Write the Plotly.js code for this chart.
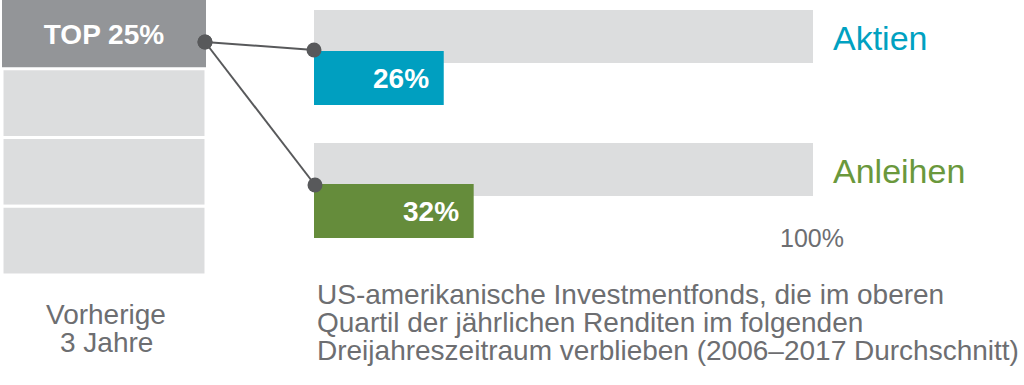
<!DOCTYPE html>
<html>
<head>
<meta charset="utf-8">
<script src="https://cdn.plot.ly/plotly-3.0.1.min.js"></script>
<style>html,body{margin:0;padding:0;background:#fff;}#chart{width:1024px;height:385px;}</style>
</head>
<body>
<div id="chart"></div>
<script>
// ---------------- data ----------------
const quartileLabels = ['TOP 25%', '', '', ''];
const quartileShares = [25, 25, 25, 25];
const assetClasses = ['Aktien', 'Anleihen'];
const stayedInTopQuartile = [26, 32];
const fullScale = 100;
const fullScaleLabel = '100%';
const leftCaptionLines = ['Vorherige', '3 Jahre'];
const captionLines = [
  'US-amerikanische Investmentfonds, die im oberen',
  'Quartil der jährlichen Renditen im folgenden',
  'Dreijahreszeitraum verblieben (2006–2017 Durchschnitt)'
];

// ---------------- style / geometry ----------------
const W = 1024, H = 385;
const FONT = 'Liberation Sans, Arial, Helvetica, sans-serif';
const darkBox = '#939598', lightBox = '#dcddde';
const assetColors = ['#009fc0', '#658c3b'];
const assetTextColors = ['#00a1c1', '#6a983c'];
const connectorColor = '#58595b';
const grayText = '#6d6e71';

const colLeft = 2, colRight = 206, colBottom = 275;
const barLeft = 314, barRight = 813;
const rowTop0 = 10, rowStep = 133, bgThick = 53, valueOffset = 41, valueThick = 54;
const sourceY = 42;

// cumulative bases so the first quartile sits on top
const total = quartileShares.reduce((a, b) => a + b, 0);
let acc = 0;
const quartileBase = quartileShares.map(v => { acc += v; return total - acc; });

const rowTop = assetClasses.map((_, i) => rowTop0 + rowStep * i);
const bgCenter = rowTop.map(t => t + bgThick / 2);
const valCenter = rowTop.map(t => t + valueOffset + valueThick / 2);
const valTop = rowTop.map(t => t + valueOffset);

const traces = [];
// left column (quartiles)
traces.push({
  type: 'bar', xaxis: 'x', yaxis: 'y',
  x: quartileShares.map(() => 0), y: quartileShares, base: quartileBase,
  width: 1,
  marker: { color: quartileShares.map((_, i) => i === 0 ? darkBox : lightBox),
            line: { color: '#ffffff', width: quartileShares.map((_, i) => i === 0 ? 0 : 3) } },
  text: quartileLabels, textposition: 'inside', insidetextanchor: 'middle',
  textfont: { family: FONT, size: 28, color: '#ffffff', weight: 'bold' },
  hoverinfo: 'skip', showlegend: false
});
// grey 100% backgrounds
traces.push({
  type: 'bar', orientation: 'h', xaxis: 'x2', yaxis: 'y2',
  x: assetClasses.map(() => fullScale), y: bgCenter, width: bgThick,
  marker: { color: lightBox }, hoverinfo: 'skip', showlegend: false
});
// value bars
traces.push({
  type: 'bar', orientation: 'h', xaxis: 'x2', yaxis: 'y2',
  x: stayedInTopQuartile, y: valCenter, width: valueThick,
  marker: { color: assetColors }, hoverinfo: 'skip', showlegend: false
});
// connectors
const cx = [], cy = [];
valTop.forEach((t, i) => {
  cx.push(colRight - 1, barLeft + (i === 0 ? 0 : 1), null);
  cy.push(sourceY, t + (i === 0 ? -1 : 1), null);
});
traces.push({
  type: 'scatter', mode: 'lines+markers', xaxis: 'x3', yaxis: 'y2',
  x: cx, y: cy, connectgaps: false,
  line: { color: connectorColor, width: 2 },
  marker: { color: connectorColor, size: 15 },
  hoverinfo: 'skip', showlegend: false, cliponaxis: false
});

const annotations = [];
stayedInTopQuartile.forEach((v, i) => {
  annotations.push({
    xref: 'x2', yref: 'y2', x: v, y: valCenter[i], xanchor: 'right', yanchor: 'middle',
    xshift: -13, text: v + '%', showarrow: false,
    font: { family: FONT, size: 28, color: '#ffffff', weight: 'bold' }
  });
  annotations.push({
    xref: 'x2', yref: 'y2', x: fullScale, y: bgCenter[i] + 1, xanchor: 'left', yanchor: 'middle',
    xshift: 18, text: assetClasses[i], showarrow: false,
    font: { family: FONT, size: 34, color: assetTextColors[i] }
  });
});
annotations.push({
  xref: 'x2', yref: 'y2', x: fullScale, y: 238, xanchor: 'center', yanchor: 'middle', xshift: -1,
  text: fullScaleLabel, showarrow: false, font: { family: FONT, size: 25, color: grayText }
});
leftCaptionLines.forEach((s, i) => annotations.push({
  xref: 'x3', yref: 'y2', x: 106, y: 314 + 28 * i, xanchor: 'center', yanchor: 'middle',
  text: s, showarrow: false, font: { family: FONT, size: 28, color: grayText }
}));
captionLines.forEach((s, i) => annotations.push({
  xref: 'x3', yref: 'y2', x: 315, y: 294 + 28 * i, xanchor: 'left', yanchor: 'middle',
  text: s, showarrow: false, font: { family: FONT, size: 28, color: grayText }
}));

const hidden = { visible: false, showgrid: false, zeroline: false, fixedrange: true };
const layout = {
  width: W, height: H, margin: { l: 0, r: 0, t: 0, b: 0, pad: 0 },
  paper_bgcolor: '#ffffff', plot_bgcolor: 'rgba(0,0,0,0)',
  barmode: 'overlay', showlegend: false, font: { family: FONT },
  xaxis: Object.assign({}, hidden, { domain: [colLeft / W, colRight / W], range: [-0.5, 0.5], anchor: 'y' }),
  yaxis: Object.assign({}, hidden, { domain: [1 - colBottom / H, 1], range: [0, total], anchor: 'x' }),
  xaxis2: Object.assign({}, hidden, { domain: [barLeft / W, barRight / W], range: [0, fullScale], anchor: 'y2' }),
  yaxis2: Object.assign({}, hidden, { domain: [0, 1], range: [H, 0], anchor: 'x2' }),
  xaxis3: Object.assign({}, hidden, { domain: [0, 1], range: [0, W], anchor: 'y2' }),
  annotations: annotations
};
Plotly.newPlot('chart', traces, layout, { staticPlot: true, displayModeBar: false });
</script>
</body>
</html>
